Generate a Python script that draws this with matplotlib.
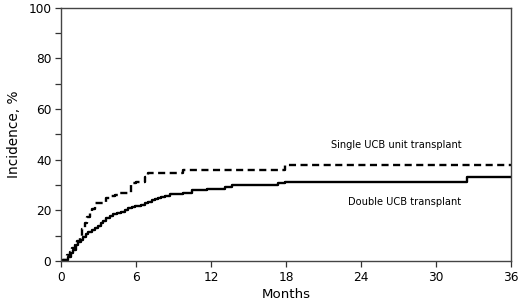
import matplotlib
matplotlib.use("Agg")
import matplotlib.pyplot as plt
from matplotlib.ticker import MultipleLocator

# cumulative incidence (months, %)
single_t = [0, 0.16, 0.5, 0.7, 0.9, 1.1, 1.3, 1.5, 1.7, 1.9, 2.1, 2.3, 2.5, 2.7, 3.6, 4.0, 4.3, 4.6,
            5.6, 6.0, 6.4, 6.7, 7.0, 9.8, 17.9, 36]
single_y = [0, 0.4, 2.4, 3.7, 5.0, 6.5, 8.0, 10.0, 12.5, 15.0, 17.5, 19.5, 20.5, 22.8, 25.0, 25.7, 26.2, 26.8,
            30.7, 31.0, 31.3, 33.0, 34.6, 36.0, 37.9, 37.9]

double_t = [0, 0.4, 0.6, 0.8, 1.0, 1.2, 1.4, 1.6, 1.8, 2.0, 2.2, 2.45, 2.7, 2.95, 3.2, 3.4, 3.6, 3.9,
            4.2, 4.5, 4.8, 5.1, 5.4, 5.65, 5.9, 6.15, 6.4, 6.7, 7.0, 7.25, 7.5, 7.75, 8.0, 8.35, 8.7,
            9.2, 9.8, 10.5, 11.7, 13.1, 13.7, 17.4, 17.9, 18.7, 32.5, 36]
double_y = [0.4, 0.4, 1.5, 3.0, 4.5, 6.3, 7.3, 8.3, 9.5, 10.6, 11.6, 12.3, 12.9, 13.9, 14.9, 15.9, 16.9, 17.8,
            18.6, 19.0, 19.5, 20.2, 20.8, 21.2, 21.5, 21.8, 22.1, 22.8, 23.4, 23.9, 24.4, 24.9, 25.4, 25.8, 26.3,
            26.6, 27.0, 28.1, 28.3, 29.1, 29.8, 30.7, 31.1, 31.3, 33.1, 33.1]

x_ticks = [0, 6, 12, 18, 24, 30, 36]
y_ticks = [0, 20, 40, 60, 80, 100]

fig = plt.figure(figsize=(5.2, 3.02), dpi=100)
ax = fig.add_axes([0.1173, 0.1358, 0.8654, 0.8392])

ax.plot(single_t, single_y, drawstyle="steps-post", color="black", lw=1.7,
        linestyle=(0, (3.0, 1.9)))
ax.plot(double_t, double_y, drawstyle="steps-post", color="black", lw=1.7)

ax.set_xlim(0, 36)
ax.set_ylim(0, 100)
ax.set_xticks(x_ticks)
ax.set_yticks(y_ticks)
ax.yaxis.set_minor_locator(MultipleLocator(10))
ax.tick_params(axis="both", which="both", direction="out", length=4, width=0.9,
               labelsize=8.7, color="#333333", pad=3)
for s in ax.spines.values():
    s.set_color("#444444")
    s.set_linewidth(1.0)

ax.set_xlabel("Months", fontsize=9.6, labelpad=3)
ax.set_ylabel("Incidence, %", fontsize=9.8, labelpad=5)

ax.text(26.8, 45.6, "Single UCB unit transplant", fontsize=7.1, ha="center", va="center")
ax.text(27.5, 23.3, "Double UCB transplant", fontsize=7.1, ha="center", va="center")

fig.savefig("out.png", dpi=100)
